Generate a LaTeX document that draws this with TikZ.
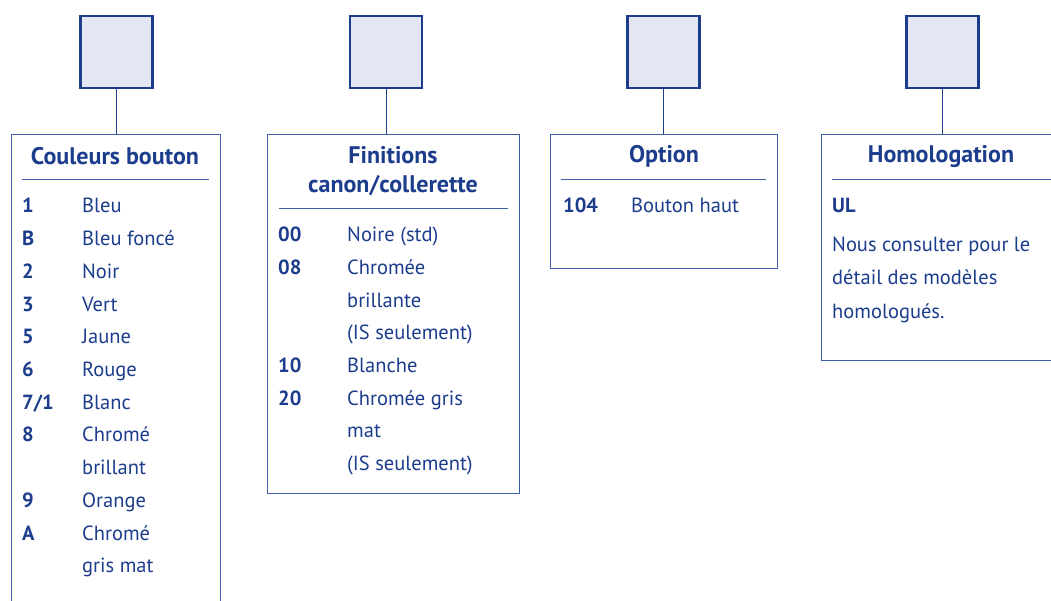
\documentclass[tikz,border=0pt]{standalone}
\usepackage{fontspec}
\setmainfont{PT Sans}
\usepackage{xcolor}
\usepackage{tikz}
\usetikzlibrary{positioning,calc}

\definecolor{navy}{HTML}{1C3C8C}
\definecolor{edgeblue}{HTML}{3F5FA6}
\definecolor{squarefill}{HTML}{E4E6F4}

\tikzset{
  refbox/.style={draw=navy, line width=2.7pt, fill=squarefill, minimum size=72pt, inner sep=0pt},
  panel/.style={draw=edgeblue, line width=1pt, inner sep=0pt, anchor=north west},
  link/.style={draw=navy, line width=1pt},
  rule/.style={draw=edgeblue, line width=0.9pt},
  head/.style={text=navy, font=\bfseries\fontsize{24}{29}\selectfont, anchor=base, inner sep=0pt},
  code/.style={text=navy, font=\bfseries\fontsize{20.5}{24}\selectfont, anchor=base west, inner sep=0pt},
  label/.style={text=navy, font=\fontsize{20.5}{24}\selectfont, anchor=base west, inner sep=0pt}
}

\begin{document}
\begin{tikzpicture}[x=1pt, y=-1pt]
    \useasboundingbox (0,0) rectangle (1051,601);
    \clip (0,0) rectangle (1051,601);

    % Reference squares
    \node[refbox] (sq1) at (116.5,52) {};
    \node[refbox] (sq2) at (386,52) {};
    \node[refbox] (sq3) at (663.5,52) {};
    \node[refbox] (sq4) at (942.5,52) {};

    % Panels
    \node[panel, minimum width=209pt, minimum height=500pt] (p1) at (11,134) {};
    \node[panel, minimum width=252pt, minimum height=359pt] (p2) at (267,134) {};
    \node[panel, minimum width=227pt, minimum height=134pt] (p3) at (550,134) {};
    \node[panel, minimum width=260pt, minimum height=226pt] (p4) at (821,134) {};

    % Connectors
    \draw[link] (sq1.south) -- (sq1.south |- p1.north);
    \draw[link] (sq2.south) -- (sq2.south |- p2.north);
    \draw[link] (sq3.south) -- (sq3.south |- p3.north);
    \draw[link] (sq4.south) -- (sq4.south |- p4.north);

    % Titles and rules
    \node[head] (t1) at (115,165) {Couleurs bouton};
    \draw[rule] (22,179) -- (209,179);

    \node[head] (t2a) at (393,164) {Finitions};
    \node[head] (t2b) at (393,193) {canon/collerette};
    \draw[rule] (279,208) -- (508,208);

    \node[head] (t3) at (664,163) {Option};
    \draw[rule] (561,179) -- (766,179);

    \node[head] (t4) at (941,163) {Homologation};
    \draw[rule] (832,179) -- (1060,179);

    % Couleurs bouton
    \foreach \k/\v [count=\i from 0] in {1/Bleu, B/Bleu foncé, 2/Noir, 3/Vert,
        5/Jaune, 6/Rouge, {7/1}/Blanc, 8/Chromé, /brillant, 9/Orange, A/Chromé, /gris mat} {
        \node[code] (c\i) at (22,213+32.7*\i) {\k};
        \node[label] (l\i) at (82,213+32.7*\i) {\v};
    }

    % Finitions
    \foreach \k/\v [count=\i from 0] in {00/Noire (std), 08/Chromée, /brillante,
        /(IS seulement), 10/Blanche, 20/Chromée gris, /mat, /(IS seulement)} {
        \node[code] (f\i) at (278,242+32.6*\i) {\k};
        \node[label] (g\i) at (347,242+32.6*\i) {\v};
    }

    % Option
    \node[code] (o1) at (563,213) {104};
    \node[label] (o2) at (631,213) {Bouton haut};

    % Homologation
    \node[code] (h0) at (832,213) {UL};
    \node[label] (h1) at (832,252) {Nous consulter pour le};
    \node[label] (h2) at (832,285) {détail des modèles};
    \node[label] (h3) at (832,318) {homologués.};

\end{tikzpicture}
\end{document}
